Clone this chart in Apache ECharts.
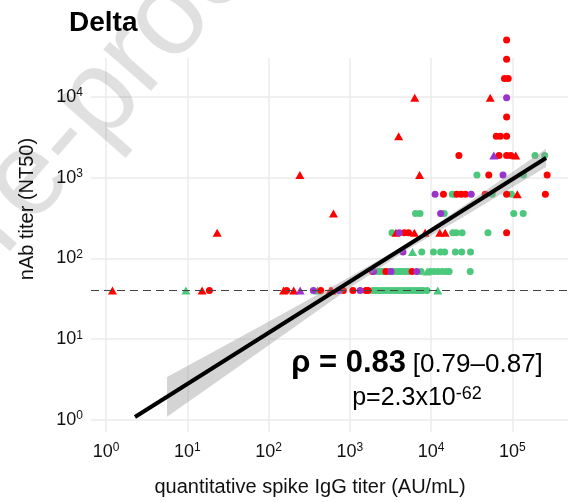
<!DOCTYPE html>
<html>
<head>
<meta charset="utf-8">
<script src="https://cdn.jsdelivr.net/npm/echarts@6/dist/echarts.min.js"></script>
<style>
  html, body { margin: 0; padding: 0; background: #fff; }
  #chartWrap { width: 571px; height: 502px; }
</style>
</head>
<body>
<div id="chartWrap"></div>
<script>
// titers: [spike IgG (AU/mL), nAb NT50]
var redCircles = [
    [85000, 50510], [85000, 29160], [80000, 16836], [89000, 16836], [85000, 5612],
    [63400, 3240], [71100, 3240], [85000, 3240],
    [22000, 1871], [68500, 1871], [85000, 1871], [95800, 1871],
    [51300, 1080], [268000, 1080],
    [14200, 624], [20800, 624], [23400, 624], [26500, 624], [46400, 624], [85000, 624], [255000, 624],
    [4680, 208], [5270, 208], [85000, 208],
    [1900, 69], [2780, 69], [5830, 69],
    [18.7, 40], [167, 40], [439, 40], [832, 40], [1090, 40], [1580, 40], [1680, 40]
];
var redTriangles = [
    [1.2, 40], [15.2, 40], [153, 40], [204, 40], [574, 40], [600, 40],
    [23.3, 208], [243, 1080], [629, 360],
    [3700, 208], [6220, 208], [8440, 208], [12800, 208], [14900, 208],
    [3990, 3240], [6290, 9720], [53500, 9720], [7210, 1080], [110000, 1871], [115000, 624]
];
var purpleCircles = [
    [85000, 9720], [76800, 1080], [11200, 624], [31200, 624], [13100, 360], [4060, 208],
    [4510, 120], [1960, 69], [3210, 69], [6660, 69], [356, 40], [731, 40], [1340, 40]
];
var purpleTriangles = [[59100, 1871], [245, 40]];
var greenCircles = [
    [190000, 1871], [250000, 1871], [36700, 1080], [137000, 1080],
    [18200, 624], [19300, 624], [56600, 624], [97200, 624],
    [6440, 360], [7310, 360], [14500, 360], [104000, 360], [136000, 360],
    [3300, 208], [18500, 208], [20400, 208], [24100, 208], [50100, 208],
    [7680, 120], [10700, 120], [13100, 120], [14700, 120], [19900, 120], [23800, 120], [30600, 120],
    [2220, 69], [2420, 69], [2630, 69], [3030, 69], [3390, 69], [3700, 69], [4030, 69], [4390, 69],
    [4780, 69], [5200, 69], [7530, 69], [9720, 69], [10900, 69], [12200, 69], [13700, 69],
    [15300, 69], [16700, 69], [30300, 69],
    [1920, 40], [2100, 40], [2280, 40], [2480, 40], [2710, 40], [2940, 40], [3210, 40], [3490, 40],
    [3800, 40], [4140, 40], [4510, 40], [4910, 40], [5350, 40], [5830, 40], [6340, 40], [6910, 40],
    [7530, 40], [7970, 40], [8930, 40]
];
var greenTriangles = [[9.6, 40], [400, 40], [5910, 120], [8930, 69], [12100, 40]];

// fitted line and its confidence band
var fitX = [2.27, 260000];
var fitY = [1.09, 1750];
var bandX = [5.63, 34, 248, 1030, 5060, 23400, 260000];
var bandLo = [1.095, 3.9, 16.0, 43.9, 128, 315, 1350];
var bandHi = [3.41, 9.1, 27.2, 60.0, 152, 427, 2280];

var detectionLimit = 40;
var xDecades = [0, 1, 2, 3, 4, 5];
var yDecades = [0, 1, 2, 3, 4];

var RED = '#FF0000', GREEN = '#4CC87C', PURPLE = '#9933CC';
var FONT = 'Liberation Sans, Arial, sans-serif';

function lg(v) { return Math.log10(v); }
function toLog(list) {
    return list.map(function (p) { return [lg(p[0]), lg(p[1])]; });
}

function scatter(name, list, symbol, color) {
    return {
        name: name,
        type: 'scatter',
        data: toLog(list),
        symbol: symbol,
        symbolSize: symbol === 'triangle' ? [9, 8] : 7,
        itemStyle: { color: color, opacity: 1 },
        clip: false,
        z: 3
    };
}

function $ext(a, b) {
    var o = {}, k;
    for (k in a) o[k] = a[k];
    for (k in b) o[k] = b[k];
    return o;
}

var powLabel = {
    formatter: function (v) { return '{b|10}{s|' + v + '}'; },
    rich: {
        b: { fontSize: 18, lineHeight: 20, color: '#111', fontFamily: FONT },
        s: { fontSize: 12, lineHeight: 14, color: '#111', fontFamily: FONT, verticalAlign: 'top' }
    }
};

var gridLine = { show: true, lineStyle: { color: '#EBEBEB', width: 1.5 } };

var myChart = echarts.init(document.getElementById('chartWrap'));

var bandData = bandX.map(function (x, i) { return [lg(x), lg(bandLo[i]), lg(bandHi[i])]; });

myChart.setOption({
    animation: false,
    grid: { left: 91, right: 3, top: 58, bottom: 70 },
    xAxis: {
        type: 'value',
        min: -0.185,
        max: 5.685,
        axisLine: { show: false },
        axisTick: { show: false, customValues: xDecades },
        axisLabel: $ext(powLabel, { customValues: xDecades, margin: 10 }),
        splitLine: gridLine
    },
    yAxis: {
        type: 'value',
        min: -0.1485,
        max: 4.48,
        axisLine: { show: false },
        axisTick: { show: false, customValues: yDecades },
        axisLabel: $ext(powLabel, { customValues: yDecades, margin: 8 }),
        splitLine: gridLine
    },
    series: [
        {
            type: 'line',
            data: [],
            markLine: {
                silent: true,
                symbol: 'none',
                label: { show: false },
                lineStyle: { color: '#444', width: 1, type: [8, 5] },
                data: [{ yAxis: lg(detectionLimit) }]
            },
            z: 2
        },
        scatter('green', greenCircles, 'circle', GREEN),
        scatter('greenT', greenTriangles, 'triangle', GREEN),
        scatter('red', redCircles, 'circle', RED),
        scatter('redT', redTriangles, 'triangle', RED),
        scatter('purple', purpleCircles, 'circle', PURPLE),
        scatter('purpleT', purpleTriangles, 'triangle', PURPLE),
        {
            type: 'custom',
            data: bandData,
            encode: { x: 0, y: [1, 2] },
            renderItem: function (params, api) {
                if (params.dataIndex !== 0) return;
                var pts = [], i;
                for (i = 0; i < bandData.length; i++) pts.push(api.coord([bandData[i][0], bandData[i][2]]));
                for (i = bandData.length - 1; i >= 0; i--) pts.push(api.coord([bandData[i][0], bandData[i][1]]));
                return { type: 'polygon', shape: { points: pts }, style: { fill: 'rgba(153,153,153,0.42)' } };
            },
            z: 4
        },
        {
            type: 'line',
            data: [[lg(fitX[0]), lg(fitY[0])], [lg(fitX[1]), lg(fitY[1])]],
            showSymbol: false,
            lineStyle: { color: '#000', width: 4 },
            z: 5
        }
    ],
    graphic: [
        { type: 'text', left: 69, top: 9, style: { text: 'Delta', font: 'bold 28px ' + FONT, fill: '#000' } },
        {
            type: 'text', x: 310, y: 487,
            style: { text: 'quantitative spike IgG titer (AU/mL)', font: '20px ' + FONT, fill: '#111', align: 'center', verticalAlign: 'middle' }
        },
        {
            type: 'text', x: 27, y: 209, rotation: Math.PI / 2,
            style: { text: 'nAb titer (NT50)', font: '20px ' + FONT, fill: '#111', align: 'center', verticalAlign: 'middle' }
        },
        {
            type: 'text', x: 417, y: 363, z: 10,
            style: {
                text: '{r|ρ = 0.83}  {n|[0.79–0.87]}', align: 'center', verticalAlign: 'middle',
                rich: {
                    r: { font: 'bold 31px ' + FONT, fill: '#000', lineHeight: 34 },
                    n: { font: '26px ' + FONT, fill: '#000', lineHeight: 34, padding: [3, 0, 0, 0] }
                }
            }
        },
        {
            type: 'text', x: 417, y: 398, z: 10,
            style: {
                text: '{p|p=2.3x10}{e|-62}', align: 'center', verticalAlign: 'middle',
                rich: {
                    p: { font: '25px ' + FONT, fill: '#000', lineHeight: 25 },
                    e: { font: '18px ' + FONT, fill: '#000', lineHeight: 18, verticalAlign: 'top' }
                }
            }
        },
        {
            // journal watermark, only partly inside the picture
            type: 'text', x: 92, y: 108, rotation: 0.85, z: 20, silent: true,
            style: { text: 'Pre-proof', font: '120px ' + FONT, fill: 'rgba(0,0,0,0.12)', align: 'center', verticalAlign: 'middle' }
        }
    ]
});
</script>
</body>
</html>
